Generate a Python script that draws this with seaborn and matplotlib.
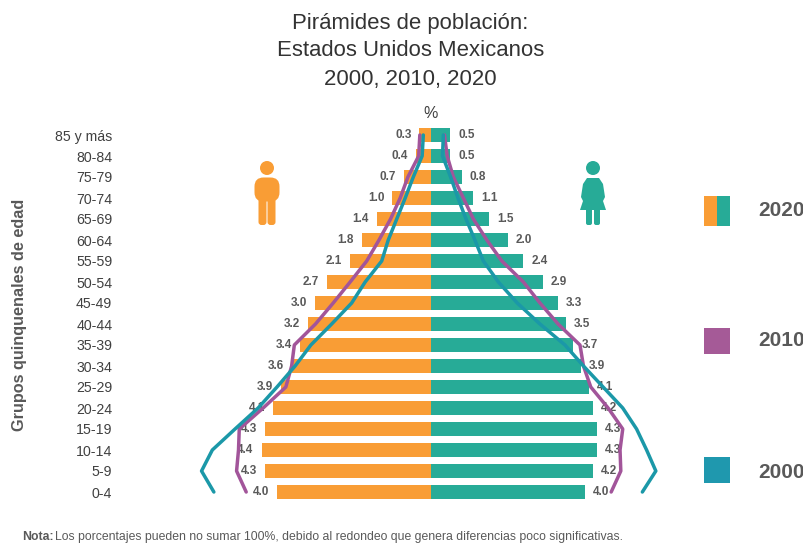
import numpy as np
import pandas as pd
import matplotlib.pyplot as plt
import seaborn as sns
from matplotlib.patches import Circle, FancyBboxPatch, Polygon, Rectangle

# Datos: porcentaje por grupo de edad (de mayor a menor edad)
edades = ["85 y más", "80-84", "75-79", "70-74", "65-69", "60-64", "55-59", "50-54", "45-49",
          "40-44", "35-39", "30-34", "25-29", "20-24", "15-19", "10-14", "5-9", "0-4"]
hombres_2020 = [0.3, 0.4, 0.7, 1.0, 1.4, 1.8, 2.1, 2.7, 3.0, 3.2, 3.4, 3.6, 3.9, 4.1, 4.3, 4.4, 4.3, 4.0]
mujeres_2020 = [0.5, 0.5, 0.8, 1.1, 1.5, 2.0, 2.4, 2.9, 3.3, 3.5, 3.7, 3.9, 4.1, 4.2, 4.3, 4.3, 4.2, 4.0]
hombres_2010 = [0.29, 0.32, 0.60, 0.80, 1.05, 1.35, 1.67, 2.10, 2.54, 3.00, 3.55, 3.62, 3.77, 4.36, 4.98, 5.00, 5.05, 4.80]
mujeres_2010 = [0.35, 0.42, 0.58, 0.84, 1.10, 1.45, 1.84, 2.40, 2.83, 3.30, 3.87, 3.96, 4.15, 4.60, 4.98, 4.91, 4.93, 4.68]
hombres_2000 = [0.20, 0.23, 0.46, 0.67, 0.89, 1.11, 1.28, 1.71, 2.06, 2.58, 3.12, 3.53, 4.00, 4.49, 5.09, 5.68, 5.96, 5.64]
mujeres_2000 = [0.32, 0.30, 0.51, 0.70, 0.91, 1.14, 1.36, 1.75, 2.24, 2.83, 3.48, 3.96, 4.47, 4.98, 5.34, 5.60, 5.84, 5.49]

NARANJA = "#F99D35"
VERDE = "#27AB97"
MORADO = "#A2559A"
AZUL = "#1B98A8"
GRIS = "#595959"

sns.set_theme(style="white")
plt.rcParams["font.family"] = ["Liberation Sans", "DejaVu Sans"]

W, H = 804, 544
fig = plt.figure(figsize=(W / 100, H / 100), dpi=100)

# Eje principal: 38.5 px por 1 %, centro en x=431, filas cada 21 px desde y=135
izq, der, arr, aba = 120, 804, 100, 515
ax = fig.add_axes([izq / W, 1 - aba / H, (der - izq) / W, (aba - arr) / H])

pos = np.arange(len(edades))
sns.barplot(x=-np.array(hombres_2020), y=edades, color=NARANJA, saturation=1, width=0.67, linewidth=0, ax=ax)
sns.barplot(x=mujeres_2020, y=edades, color=VERDE, saturation=1, width=0.67, linewidth=0, ax=ax)

ax.bar_label(ax.containers[0], labels=[f"{v:.1f}" for v in hombres_2020], padding=5.8,
             fontsize=8.5, fontweight="bold", color=GRIS)
ax.bar_label(ax.containers[1], labels=[f"{v:.1f}" for v in mujeres_2020], padding=5.8,
             fontsize=8.5, fontweight="bold", color=GRIS)

lineas = [(hombres_2010, -1, MORADO), (mujeres_2010, 1, MORADO),
          (hombres_2000, -1, AZUL), (mujeres_2000, 1, AZUL)]
for valores, signo, color in lineas:
    sns.lineplot(x=signo * np.array(valores), y=pos, orient="y", sort=False, estimator=None,
                 color=color, linewidth=2.5, ax=ax, zorder=4)

ax.set_xlim((izq - 431) / 38.5, (der - 431) / 38.5)
ax.set_ylim((aba - 135) / 21, (arr - 135) / 21)
ax.set_xticks([])
ax.set_xlabel("")
ax.tick_params(axis="y", length=0, pad=5.5, labelsize=10.2, labelcolor="#404040")
ax.set_ylabel("Grupos quinquenales de edad", fontsize=11.7, fontweight="bold", color=GRIS)
ax.yaxis.set_label_coords((27 - izq) / (der - izq), (aba - 315) / (aba - arr))
sns.despine(ax=ax, left=True, bottom=True)

# Capa en pixeles para titulo, iconos y leyenda
capa = fig.add_axes([0, 0, 1, 1], facecolor="none")
capa.set_xlim(0, W)
capa.set_ylim(H, 0)
capa.axis("off")

for y, txt in zip([24, 51, 79], ["Pirámides de población:", "Estados Unidos Mexicanos", "2000, 2010, 2020"]):
    capa.text(410.5, y, txt, ha="center", va="center", fontsize=15.9, color="#333333")
capa.text(431, 113, "%", ha="center", va="center", fontsize=11.5, color="#404040")

# Hombre
capa.add_patch(Circle((267, 168), 7, color=NARANJA, lw=0))
capa.add_patch(FancyBboxPatch((260, 183), 14, 13, boxstyle="round,pad=5.5,rounding_size=9", color=NARANJA, lw=0))
capa.add_patch(FancyBboxPatch((259.5, 195), 6, 29, boxstyle="round,pad=1,rounding_size=3", color=NARANJA, lw=0))
capa.add_patch(FancyBboxPatch((268.5, 195), 6, 29, boxstyle="round,pad=1,rounding_size=3", color=NARANJA, lw=0))

# Mujer
capa.add_patch(Circle((593, 168), 7, color=VERDE, lw=0))
capa.add_patch(Polygon([(587, 178), (599, 178), (603, 184), (605, 197), (603, 201), (606, 210),
                        (580, 210), (583, 201), (581, 197), (583, 184)], closed=True, color=VERDE, lw=0))
capa.add_patch(FancyBboxPatch((587, 208), 4, 16, boxstyle="round,pad=1,rounding_size=2", color=VERDE, lw=0))
capa.add_patch(FancyBboxPatch((595, 208), 4, 16, boxstyle="round,pad=1,rounding_size=2", color=VERDE, lw=0))

# Leyenda
capa.add_patch(Rectangle((704, 196), 13, 30, color=NARANJA, lw=0))
capa.add_patch(Rectangle((717, 196), 13, 30, color=VERDE, lw=0))
capa.add_patch(Rectangle((704, 328), 26, 26, color="#A55A97", lw=0))
capa.add_patch(Rectangle((704, 457), 26, 26, color="#1F98AE", lw=0))
for y, txt in zip([210, 341, 472], ["2020", "2010", "2000"]):
    capa.text(758, y, txt, ha="left", va="center", fontsize=15, fontweight="bold", color=GRIS)

# Nota
capa.text(22, 537, "Nota:", ha="left", va="center", fontsize=8.8, fontweight="bold", color=GRIS)
capa.text(55, 537, "Los porcentajes pueden no sumar 100%, debido al redondeo que genera diferencias poco significativas.",
          ha="left", va="center", fontsize=8.8, color=GRIS)

fig.savefig("out.png", dpi=100)
